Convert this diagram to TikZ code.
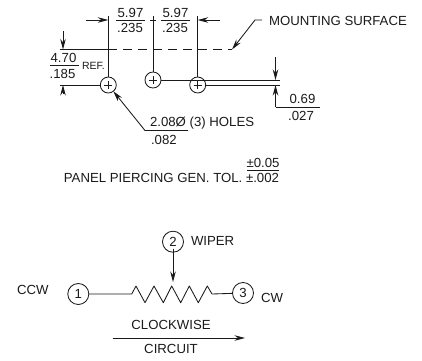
\documentclass[tikz,border=0pt]{standalone}
\usepackage{fontspec}
\setmainfont{Liberation Sans}
\usetikzlibrary{arrows.meta}
\definecolor{ink}{HTML}{1A1A1A}
\tikzset{
  every path/.style={color=ink},
  ln/.style={draw=ink,line width=0.85pt},
  arr/.style={ln,-{Stealth[length=10.5pt,width=5.5pt]}},
  txt/.style={inner sep=0pt,outer sep=0pt,text=ink,font=\fontsize{13.2}{15}\selectfont},
  small/.style={txt,font=\fontsize{10.5}{12}\selectfont},
  hole/.style={circle,draw=ink,line width=0.85pt,minimum size=16pt,inner sep=0pt,outer sep=0pt,fill=white},
  pin/.style={circle,draw=ink,line width=0.85pt,minimum size=21pt,inner sep=0pt,outer sep=0pt,text=ink,font=\fontsize{13.2}{15}\selectfont},
}
\begin{document}
\begin{tikzpicture}[x=1pt,y=-1pt]
\useasboundingbox (0,0) rectangle (422,360);
% holes
\node[hole] (h1) at (108.3,85) {};
\node[hole] (h2) at (153,80) {};
\node[hole] (h3) at (197.7,85) {};
\foreach \h in {h1,h2,h3}{
  \draw[ln,line width=0.6pt] ([xshift=-4pt]\h.center) -- ([xshift=4pt]\h.center);
  \draw[ln,line width=0.6pt] ([yshift=-4pt]\h.center) -- ([yshift=4pt]\h.center);
}
% extension lines
\coordinate (t1) at (108.3,16);
\coordinate (t2) at (153,16);
\coordinate (t3) at (197.7,16);
\draw[ln] (t1) -- (h1);
\draw[ln] (t2) -- (h2);
\draw[ln] (t3) -- (h3);
% mounting surface line
\coordinate (ml) at (60,49.5);
\coordinate (mm) at (108.3,49.5);
\coordinate (mr) at (232,49.5);
\draw[ln] (ml) -- (mm);
\draw[ln,dash pattern=on 9pt off 6pt] (mm) -- (mr);
% top dimensions
\coordinate (a1) at (85.7,20);
\coordinate (a1e) at (108.3,20);
\coordinate (a3) at (220,20);
\coordinate (a3e) at (197.7,20);
\draw[arr] (a1) -- (a1e);
\draw[arr] (a3) -- (a3e);
\coordinate (f1a) at (116,20); \coordinate (f1b) at (145,20);
\coordinate (f2a) at (161,20); \coordinate (f2b) at (190,20);
\coordinate (f3a) at (150,20); \coordinate (f3b) at (156,20);
\draw[ln] (f1a) -- (f1b);
\draw[ln] (f2a) -- (f2b);
\draw[ln] (f3a) -- (f3b);
\node[txt] (d1) at (130.5,12.5) {5.97};
\node[txt] (d2) at (130,27.5) {.235};
\node[txt] (d3) at (175.5,12.5) {5.97};
\node[txt] (d4) at (175,27.5) {.235};
% left dimension
\coordinate (la) at (63,31);
\coordinate (lae) at (63,49.5);
\coordinate (lb) at (63,94);
\coordinate (lbe) at (63,85);
\draw[arr] (la) -- (lae);
\draw[arr] (lb) -- (lbe);
\coordinate (lx) at (60,85);
\draw[ln] (lx) -- (h1);
\coordinate (g1) at (50,65); \coordinate (g2) at (79,65);
\draw[ln] (g1) -- (g2);
\node[txt] (e1) at (63.5,57.5) {4.70};
\node[txt] (e2) at (62.5,73.5) {.185};
\node[small,anchor=west] (ref) at (82,65.5) {REF.};
% right dimension
\coordinate (r2) at (280,80);
\coordinate (r3) at (280,85);
\draw[ln] (h2) -- (r2);
\draw[ln] (h3) -- (r3);
\coordinate (ra) at (275.5,57);
\coordinate (rae) at (275.5,80);
\coordinate (rb) at (275.5,107);
\coordinate (rbe) at (275.5,85);
\coordinate (rc) at (320,107);
\draw[arr] (ra) -- (rae);
\draw[arr] (rb) -- (rbe);
\draw[ln] (rb) -- (rc);
\node[txt] (k1) at (302.5,98.5) {0.69};
\node[txt] (k2) at (301,115.5) {.027};
% mounting label
\node[txt,anchor=west] (ms) at (269,20.5) {MOUNTING SURFACE};
\coordinate (mk) at (262,20);
\coordinate (mj) at (255,20);
\draw[arr] (mk) -- (mj) -- (mr);
% holes label
\coordinate (hj) at (145,130.5);
\coordinate (hk) at (188,130.5);
\draw[arr] (hk) -- (hj) -- (h1);
\node[txt,anchor=west] (hl) at (150,123.5) {2.08Ø (3) HOLES};
\node[txt,anchor=west] (hm) at (151,140) {.082};
% panel tolerance
\node[txt,anchor=east] (pt) at (279,177.5) {PANEL PIERCING GEN. TOL. ±.002};
\node[txt] (pu) at (263,163) {±0.05};
\coordinate (p1) at (247,170); \coordinate (p2) at (279,170);
\draw[ln] (p1) -- (p2);
% circuit
\node[pin] (c1) at (78.3,294) {1};
\node[pin] (c2) at (173,241.7) {2};
\node[pin] (c3) at (243,293) {3};
\node[txt,anchor=west] (wp) at (191,240.5) {WIPER};
\node[txt,anchor=west] (ccw) at (17,289.5) {CCW};
\node[txt,anchor=west] (cw) at (261,298) {CW};
\coordinate (za) at (131.7,294);
\coordinate (zb) at (212,294);
\coordinate (tip) at (173,282);
\draw[arr] ([yshift=3.5pt]c2.south) -- (tip);
\draw[ln,line join=round] (c1) -- (za) -- (136,286) -- (145,302.7) -- (154,286) -- (163.3,302.7) -- (171.7,286) -- (180.7,302.7) -- (189.3,286) -- (198.3,302.7) -- (207.3,286) -- (zb) -- (c3);
\node[txt] (cwt) at (171,325) {CLOCKWISE};
\coordinate (ca) at (112.7,338);
\coordinate (cb) at (245,338);
\draw[arr] (ca) -- (cb);
\node[txt] (cir) at (171,349) {CIRCUIT};
\end{tikzpicture}
\end{document}
